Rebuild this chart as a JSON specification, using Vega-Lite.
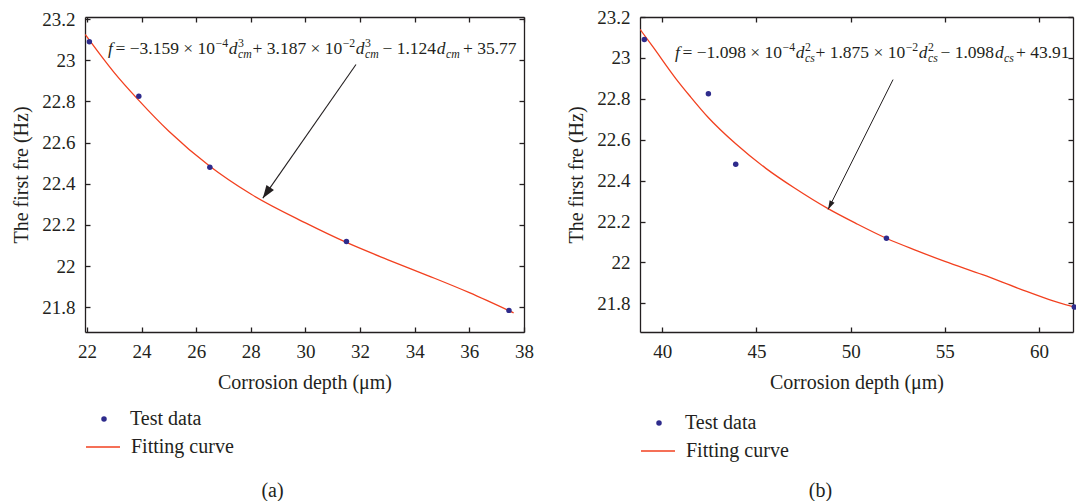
{
  "$schema": "https://vega.github.io/schema/vega-lite/v6.json",
  "padding": {"left": 11, "top": 8, "right": 0, "bottom": 0},
  "bounds": "flush",
  "spacing": 116,
  "background": "white",
  "config": {
    "font": "Liberation Serif",
    "view": {"stroke": null},
    "axis": {"domainColor": "#231f20", "domainWidth": 1.3, "tickColor": "#231f20", "tickWidth": 1.3, "tickSize": -5, "labelFont": "Liberation Serif", "labelFontSize": 19, "labelColor": "#231f20", "labelFlush": false, "labelOverlap": false, "titleFont": "Liberation Serif", "titleFontSize": 20, "titleFontWeight": "normal", "titleColor": "#231f20", "grid": false},
    "axisX": {"labelPadding": 15, "titlePadding": 11},
    "axisY": {"labelPadding": 15, "titlePadding": 10},
    "legend": {"labelFont": "Liberation Serif", "labelFontSize": 20, "labelColor": "#231f20", "padding": 0, "labelLimit": 400},
    "title": {"font": "Liberation Serif", "fontSize": 20, "fontWeight": "normal", "color": "#231f20"}
  },
  "resolve": {"scale": {"fill": "independent", "stroke": "independent"}},
  "datasets": {
    "pointsA": [
      {"depth": 22.09, "freq": 23.09, "series": "Test data"},
      {"depth": 23.9, "freq": 22.825, "series": "Test data"},
      {"depth": 26.5, "freq": 22.48, "series": "Test data"},
      {"depth": 31.5, "freq": 22.12, "series": "Test data"},
      {"depth": 37.45, "freq": 21.785, "series": "Test data"}
    ],
    "curveA": [
      {"depth": 21.94, "freq": 23.125, "series": "Fitting curve"},
      {"depth": 22.5, "freq": 23.025, "series": "Fitting curve"},
      {"depth": 23.0, "freq": 22.94, "series": "Fitting curve"},
      {"depth": 23.9, "freq": 22.805, "series": "Fitting curve"},
      {"depth": 25.0, "freq": 22.655, "series": "Fitting curve"},
      {"depth": 26.5, "freq": 22.485, "series": "Fitting curve"},
      {"depth": 28.0, "freq": 22.35, "series": "Fitting curve"},
      {"depth": 30.0, "freq": 22.21, "series": "Fitting curve"},
      {"depth": 31.5, "freq": 22.115, "series": "Fitting curve"},
      {"depth": 33.0, "freq": 22.032, "series": "Fitting curve"},
      {"depth": 34.5, "freq": 21.953, "series": "Fitting curve"},
      {"depth": 36.0, "freq": 21.871, "series": "Fitting curve"},
      {"depth": 37.62, "freq": 21.773, "series": "Fitting curve"}
    ],
    "arrowA": [{"fromDepth": 31.85, "fromFreq": 22.979, "toDepth": 28.44, "toFreq": 22.33}],
    "fMainA": [
      {"depth": 23.046, "freq": 23.03, "label": "= −3.159 × 10"},
      {"depth": 28.062, "freq": 23.03, "label": "+ 3.187 × 10"},
      {"depth": 32.82, "freq": 23.03, "label": "− 1.124"},
      {"depth": 35.767, "freq": 23.03, "label": "+ 35.77"}
    ],
    "fItalA": [
      {"depth": 22.772, "freq": 23.03, "label": "f"},
      {"depth": 27.194, "freq": 23.03, "label": "d"},
      {"depth": 31.843, "freq": 23.03, "label": "d"},
      {"depth": 34.808, "freq": 23.03, "label": "d"}
    ],
    "fSupA": [
      {"depth": 26.711, "freq": 23.03, "label": "−4"},
      {"depth": 27.531, "freq": 23.03, "label": "3"},
      {"depth": 31.363, "freq": 23.03, "label": "−2"},
      {"depth": 32.18, "freq": 23.03, "label": "3"}
    ],
    "fSubA": [
      {"depth": 27.531, "freq": 23.03, "label": "cm"},
      {"depth": 32.18, "freq": 23.03, "label": "cm"},
      {"depth": 35.145, "freq": 23.03, "label": "cm"}
    ],
    "pointsB": [
      {"depth": 39.05, "freq": 23.09, "series": "Test data"},
      {"depth": 42.45, "freq": 22.825, "series": "Test data"},
      {"depth": 43.9, "freq": 22.48, "series": "Test data"},
      {"depth": 51.9, "freq": 22.118, "series": "Test data"},
      {"depth": 61.87, "freq": 21.782, "series": "Test data"}
    ],
    "curveB": [
      {"depth": 38.82, "freq": 23.14, "series": "Fitting curve"},
      {"depth": 39.5, "freq": 23.055, "series": "Fitting curve"},
      {"depth": 40.73, "freq": 22.898, "series": "Fitting curve"},
      {"depth": 41.5, "freq": 22.81, "series": "Fitting curve"},
      {"depth": 42.43, "freq": 22.71, "series": "Fitting curve"},
      {"depth": 43.9, "freq": 22.58, "series": "Fitting curve"},
      {"depth": 45.5, "freq": 22.46, "series": "Fitting curve"},
      {"depth": 47.0, "freq": 22.365, "series": "Fitting curve"},
      {"depth": 48.8, "freq": 22.263, "series": "Fitting curve"},
      {"depth": 50.3, "freq": 22.19, "series": "Fitting curve"},
      {"depth": 51.92, "freq": 22.117, "series": "Fitting curve"},
      {"depth": 53.5, "freq": 22.058, "series": "Fitting curve"},
      {"depth": 55.0, "freq": 22.005, "series": "Fitting curve"},
      {"depth": 57.0, "freq": 21.94, "series": "Fitting curve"},
      {"depth": 59.0, "freq": 21.87, "series": "Fitting curve"},
      {"depth": 60.5, "freq": 21.82, "series": "Fitting curve"},
      {"depth": 61.87, "freq": 21.782, "series": "Fitting curve"}
    ],
    "arrowB": [{"fromDepth": 52.25, "fromFreq": 22.894, "toDepth": 48.8, "toFreq": 22.259}],
    "fMainB": [
      {"depth": 41.076, "freq": 23.0, "label": "= −1.098 × 10"},
      {"depth": 48.134, "freq": 23.0, "label": "+ 1.875 × 10"},
      {"depth": 54.768, "freq": 23.0, "label": "− 1.098"},
      {"depth": 58.775, "freq": 23.0, "label": "+ 43.91"}
    ],
    "fItalB": [
      {"depth": 40.678, "freq": 23.0, "label": "f"},
      {"depth": 47.089, "freq": 23.0, "label": "d"},
      {"depth": 53.617, "freq": 23.0, "label": "d"},
      {"depth": 57.66, "freq": 23.0, "label": "d"}
    ],
    "fSupB": [
      {"depth": 46.388, "freq": 23.0, "label": "−4"},
      {"depth": 47.577, "freq": 23.0, "label": "2"},
      {"depth": 52.921, "freq": 23.0, "label": "−2"},
      {"depth": 54.105, "freq": 23.0, "label": "2"}
    ],
    "fSubB": [
      {"depth": 47.577, "freq": 23.0, "label": "cs"},
      {"depth": 54.105, "freq": 23.0, "label": "cs"},
      {"depth": 58.138, "freq": 23.0, "label": "cs"}
    ]
  },
  "hconcat": [
    {
      "width": 439,
      "height": 315,
      "title": {"text": "(a)", "orient": "bottom", "anchor": "middle", "dx": -32, "offset": 24},
      "resolve": {"axis": {"x": "independent", "y": "independent"}},
      "layer": [
        {
          "data": {"name": "curveA"},
          "mark": {"type": "line", "interpolate": "monotone", "strokeWidth": 1.3, "clip": true},
          "encoding": {
            "x": {"field": "depth", "type": "quantitative", "scale": {"domain": [21.93, 38], "nice": false, "zero": false}, "axis": {"orient": "top", "labels": false, "title": null, "values": [22, 24, 26, 28, 30, 32, 34, 36, 38]}},
            "y": {"field": "freq", "type": "quantitative", "scale": {"domain": [21.68, 23.21], "nice": false, "zero": false}, "axis": {"orient": "right", "labels": false, "title": null, "values": [21.8, 22, 22.2, 22.4, 22.6, 22.8, 23, 23.2]}},
            "stroke": {"field": "series", "type": "nominal", "scale": {"range": ["#f2401f"]}, "legend": {"orient": "none", "legendX": 0, "legendY": 412, "symbolType": "stroke", "symbolSize": 1156, "symbolStrokeWidth": 1.3, "labelOffset": 10, "title": null}}
          }
        },
        {
          "data": {"name": "pointsA"},
          "mark": {"type": "point", "filled": true, "size": 30, "opacity": 1},
          "encoding": {
            "x": {"field": "depth", "type": "quantitative", "scale": {"domain": [21.93, 38], "nice": false, "zero": false}, "axis": {"orient": "bottom", "title": "Corrosion depth (μm)", "values": [22, 24, 26, 28, 30, 32, 34, 36, 38], "format": "~g"}},
            "y": {"field": "freq", "type": "quantitative", "scale": {"domain": [21.68, 23.21], "nice": false, "zero": false}, "axis": {"orient": "left", "title": "The first fre (Hz)", "values": [21.8, 22, 22.2, 22.4, 22.6, 22.8, 23, 23.2], "format": "~g"}},
            "fill": {"field": "series", "type": "nominal", "scale": {"range": ["#2e2b8c"]}, "legend": {"orient": "none", "legendX": 9, "legendY": 392, "symbolType": "circle", "symbolSize": 30, "symbolStrokeWidth": 0, "labelOffset": 16, "title": null}}
          }
        },
        {
          "data": {"name": "arrowA"},
          "mark": {"type": "rule", "color": "#231f20", "strokeWidth": 1.1},
          "encoding": {
            "x": {"field": "fromDepth", "type": "quantitative", "axis": null},
            "y": {"field": "fromFreq", "type": "quantitative", "axis": null},
            "x2": {"field": "toDepth"},
            "y2": {"field": "toFreq"}
          }
        },
        {
          "data": {"name": "arrowA"},
          "mark": {"type": "point", "shape": "M0,0L-0.35,1L0.35,1Z", "filled": true, "color": "#231f20", "size": 676, "angle": 214.5, "opacity": 1},
          "encoding": {
            "x": {"field": "toDepth", "type": "quantitative", "axis": null},
            "y": {"field": "toFreq", "type": "quantitative", "axis": null}
          }
        },
        {
          "data": {"name": "fMainA"},
          "mark": {"type": "text", "align": "left", "baseline": "alphabetic", "fontSize": 17.5, "color": "#231f20"},
          "encoding": {
            "x": {"field": "depth", "type": "quantitative", "axis": null},
            "y": {"field": "freq", "type": "quantitative", "axis": null},
            "text": {"field": "label"}
          }
        },
        {
          "data": {"name": "fItalA"},
          "mark": {"type": "text", "align": "left", "baseline": "alphabetic", "fontSize": 17.5, "fontStyle": "italic", "color": "#231f20"},
          "encoding": {
            "x": {"field": "depth", "type": "quantitative", "axis": null},
            "y": {"field": "freq", "type": "quantitative", "axis": null},
            "text": {"field": "label"}
          }
        },
        {
          "data": {"name": "fSupA"},
          "mark": {"type": "text", "align": "left", "baseline": "alphabetic", "fontSize": 11.8, "dy": -7, "color": "#231f20"},
          "encoding": {
            "x": {"field": "depth", "type": "quantitative", "axis": null},
            "y": {"field": "freq", "type": "quantitative", "axis": null},
            "text": {"field": "label"}
          }
        },
        {
          "data": {"name": "fSubA"},
          "mark": {"type": "text", "align": "left", "baseline": "alphabetic", "fontSize": 11.8, "fontStyle": "italic", "dy": 4, "color": "#231f20"},
          "encoding": {
            "x": {"field": "depth", "type": "quantitative", "axis": null},
            "y": {"field": "freq", "type": "quantitative", "axis": null},
            "text": {"field": "label"}
          }
        }
      ]
    },
    {
      "width": 433,
      "height": 315,
      "title": {"text": "(b)", "orient": "bottom", "anchor": "middle", "dx": -36, "offset": 20},
      "resolve": {"axis": {"x": "independent", "y": "independent"}},
      "layer": [
        {
          "data": {"name": "curveB"},
          "mark": {"type": "line", "interpolate": "monotone", "strokeWidth": 1.3, "clip": true},
          "encoding": {
            "x": {"field": "depth", "type": "quantitative", "scale": {"domain": [38.82, 61.8], "nice": false, "zero": false}, "axis": {"orient": "top", "labels": false, "title": null, "values": [40, 45, 50, 55, 60]}},
            "y": {"field": "freq", "type": "quantitative", "scale": {"domain": [21.66, 23.2], "nice": false, "zero": false}, "axis": {"orient": "right", "labels": false, "title": null, "values": [21.8, 22, 22.2, 22.4, 22.6, 22.8, 23, 23.2]}},
            "stroke": {"field": "series", "type": "nominal", "scale": {"range": ["#f2401f"]}, "legend": {"orient": "none", "legendX": 0, "legendY": 416, "symbolType": "stroke", "symbolSize": 1156, "symbolStrokeWidth": 1.3, "labelOffset": 10, "title": null}}
          }
        },
        {
          "data": {"name": "pointsB"},
          "mark": {"type": "point", "filled": true, "size": 30, "opacity": 1},
          "encoding": {
            "x": {"field": "depth", "type": "quantitative", "scale": {"domain": [38.82, 61.8], "nice": false, "zero": false}, "axis": {"orient": "bottom", "title": "Corrosion depth (μm)", "values": [40, 45, 50, 55, 60], "format": "~g"}},
            "y": {"field": "freq", "type": "quantitative", "scale": {"domain": [21.66, 23.2], "nice": false, "zero": false}, "axis": {"orient": "left", "title": "The first fre (Hz)", "values": [21.8, 22, 22.2, 22.4, 22.6, 22.8, 23, 23.2], "format": "~g"}},
            "fill": {"field": "series", "type": "nominal", "scale": {"range": ["#2e2b8c"]}, "legend": {"orient": "none", "legendX": 9, "legendY": 396, "symbolType": "circle", "symbolSize": 30, "symbolStrokeWidth": 0, "labelOffset": 16, "title": null}}
          }
        },
        {
          "data": {"name": "arrowB"},
          "mark": {"type": "rule", "color": "#231f20", "strokeWidth": 1.0},
          "encoding": {
            "x": {"field": "fromDepth", "type": "quantitative", "axis": null},
            "y": {"field": "fromFreq", "type": "quantitative", "axis": null},
            "x2": {"field": "toDepth"},
            "y2": {"field": "toFreq"}
          }
        },
        {
          "data": {"name": "arrowB"},
          "mark": {"type": "point", "shape": "M0,0L-0.3,1L0.3,1Z", "filled": true, "color": "#231f20", "size": 324, "angle": 206.6, "opacity": 1},
          "encoding": {
            "x": {"field": "toDepth", "type": "quantitative", "axis": null},
            "y": {"field": "toFreq", "type": "quantitative", "axis": null}
          }
        },
        {
          "data": {"name": "fMainB"},
          "mark": {"type": "text", "align": "left", "baseline": "alphabetic", "fontSize": 17.5, "color": "#231f20"},
          "encoding": {
            "x": {"field": "depth", "type": "quantitative", "axis": null},
            "y": {"field": "freq", "type": "quantitative", "axis": null},
            "text": {"field": "label"}
          }
        },
        {
          "data": {"name": "fItalB"},
          "mark": {"type": "text", "align": "left", "baseline": "alphabetic", "fontSize": 17.5, "fontStyle": "italic", "color": "#231f20"},
          "encoding": {
            "x": {"field": "depth", "type": "quantitative", "axis": null},
            "y": {"field": "freq", "type": "quantitative", "axis": null},
            "text": {"field": "label"}
          }
        },
        {
          "data": {"name": "fSupB"},
          "mark": {"type": "text", "align": "left", "baseline": "alphabetic", "fontSize": 11.8, "dy": -7, "color": "#231f20"},
          "encoding": {
            "x": {"field": "depth", "type": "quantitative", "axis": null},
            "y": {"field": "freq", "type": "quantitative", "axis": null},
            "text": {"field": "label"}
          }
        },
        {
          "data": {"name": "fSubB"},
          "mark": {"type": "text", "align": "left", "baseline": "alphabetic", "fontSize": 11.8, "fontStyle": "italic", "dy": 4, "color": "#231f20"},
          "encoding": {
            "x": {"field": "depth", "type": "quantitative", "axis": null},
            "y": {"field": "freq", "type": "quantitative", "axis": null},
            "text": {"field": "label"}
          }
        }
      ]
    }
  ]
}
